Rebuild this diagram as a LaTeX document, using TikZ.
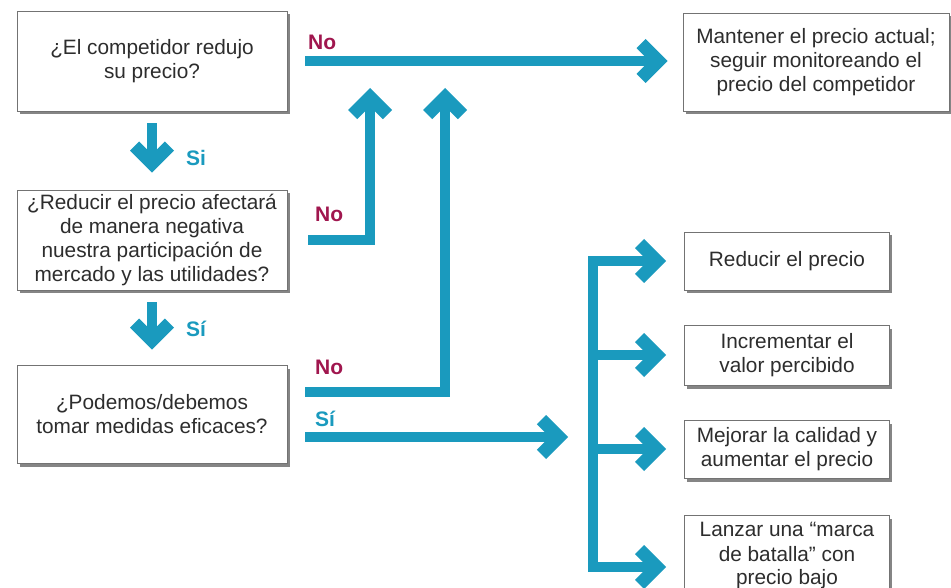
\documentclass[tikz,border=0pt]{standalone}
\usepackage{fontspec}
\setmainfont{Liberation Sans}
\usetikzlibrary{arrows.meta,shadows}
\definecolor{flowc}{RGB}{26,154,190}
\definecolor{noc}{RGB}{160,22,78}
\definecolor{txt}{RGB}{45,45,45}
\pgfdeclarearrow{
  name=Chev,
  setup code={
    \pgfarrowssettipend{0pt}
    \pgfarrowssetlineend{-16pt}
    \pgfarrowssetbackend{-32pt}
    \pgfarrowshullpoint{0pt}{0pt}
    \pgfarrowshullpoint{-32pt}{23pt}
    \pgfarrowshullpoint{-32pt}{-23pt}
  },
  drawing code={
    \pgfsetfillcolor{flowc}
    \pgfpathmoveto{\pgfpoint{0pt}{0pt}}
    \pgfpathlineto{\pgfpoint{-22pt}{22pt}}
    \pgfpathlineto{\pgfpoint{-31.2pt}{12.8pt}}
    \pgfpathlineto{\pgfpoint{-18.4pt}{0pt}}
    \pgfpathlineto{\pgfpoint{-31.2pt}{-12.8pt}}
    \pgfpathlineto{\pgfpoint{-22pt}{-22pt}}
    \pgfpathclose
    \pgfusepathqfill
  }
}
\begin{document}
\begin{tikzpicture}[x=1pt,y=-1pt,
  >={Chev},
  box/.style={draw=black!55, line width=0.6pt, fill=white, align=center, inner sep=2pt,
    text=txt, font=\fontsize{20.8}{24}\selectfont,
    drop shadow={shadow xshift=2.5pt, shadow yshift=-3.5pt, fill=black!80, opacity=0.6}},
  flow/.style={draw=flowc, line width=10pt, ->},
  nolab/.style={text=noc, font=\fontsize{21}{24}\bfseries, anchor=base west, inner sep=0pt},
  silab/.style={text=flowc, font=\fontsize{21}{24}\bfseries, anchor=base west, inner sep=0pt}]
\clip (0,0) rectangle (951,588);
\useasboundingbox (0,0) rectangle (951,588);

% question boxes
\node[box, minimum width=270pt, minimum height=100pt] (q1) at (152,61) {¿El competidor redujo\\su precio?};
\node[box, minimum width=270pt, minimum height=100pt] (q2) at (152,240) {¿Reducir el precio afectará\\de manera negativa\\nuestra participación de\\mercado y las utilidades?};
\node[box, minimum width=270pt, minimum height=98pt] (q3) at (152,414) {¿Podemos/debemos\\tomar medidas eficaces?};

% outcome boxes
\node[box, minimum width=266pt, minimum height=98pt] (keep) at (816,62) {Mantener el precio actual;\\seguir monitoreando el\\precio del competidor};
\node[box, minimum width=205pt, minimum height=58pt] (r1) at (787,261) {Reducir el precio};
\node[box, minimum width=205pt, minimum height=60pt] (r2) at (787,355) {Incrementar el\\valor percibido};
\node[box, minimum width=205pt, minimum height=58pt] (r3) at (787,449) {Mejorar la calidad y\\aumentar el precio};
\node[box, minimum width=205pt, minimum height=82pt] (r4) at (787,556) {Lanzar una “marca\\de batalla” con\\precio bajo};

% helper coordinates
\coordinate (up2) at (370,88);
\coordinate (up3) at (445,88);
\coordinate (hub) at (568,437);
\coordinate (bx) at (593,0);

% Si arrows down
\draw[flow, shorten <=12pt, shorten >=17pt] (q1) -- (q2);
\draw[flow, shorten <=12pt, shorten >=15pt] (q2) -- (q3);
\node[silab] at (186,166) {Si};
\node[silab] at (186,336) {Sí};

% No from q1
\draw[flow, shorten <=18pt, shorten >=15pt] (q1.east) -- (q1.east -| keep.west);
\node[nolab] at (308,50) {No};

% No from q2
\draw[flow, shorten <=21pt] (q2.east) -| (up2);
\node[nolab] at (315,222) {No};

% No from q3
\draw[flow] ([shift={(18,-22)}]q3.east) -| (up3);
\node[nolab] at (315,374) {No};

% Si from q3
\draw[flow] ([shift={(18,23)}]q3.east) -- (hub);
\node[silab] at (315,426) {Sí};

% bracket to options
\draw[flow, <->, shorten <=18pt, shorten >=18pt] (r1.west) -- (r1.west -| bx) -- ([yshift=-11pt]r4.west -| bx) -- ([yshift=-11pt]r4.west);
\draw[flow, shorten >=18pt] (r2.west -| bx) -- (r2.west);
\draw[flow, shorten >=18pt] (r3.west -| bx) -- (r3.west);
\end{tikzpicture}
\end{document}
